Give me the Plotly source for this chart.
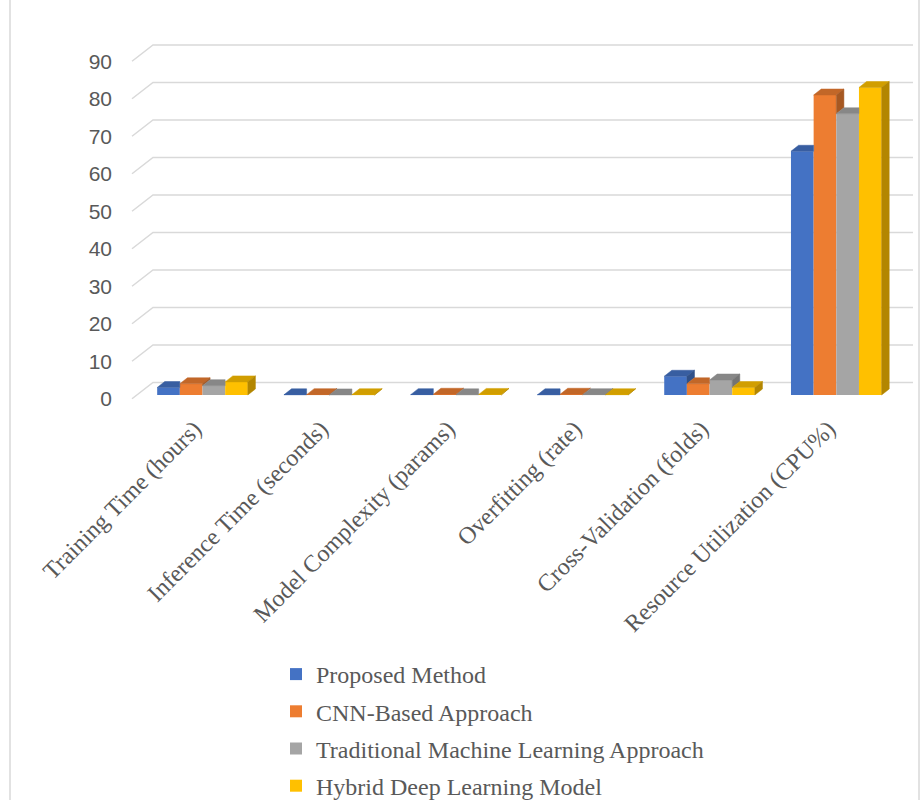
import plotly.graph_objects as go

# ---------------- data ----------------
categories = [
    "Training Time (hours)",
    "Inference Time (seconds)",
    "Model Complexity (params)",
    "Overfitting (rate)",
    "Cross-Validation (folds)",
    "Resource Utilization (CPU%)",
]
series_names = [
    "Proposed Method",
    "CNN-Based Approach",
    "Traditional Machine Learning Approach",
    "Hybrid Deep Learning Model",
]
proposed = [2, 0.05, 0.1, 0.05, 5, 65]
cnn = [3, 0.1, 0.2, 0.2, 3, 80]
traditional = [2.5, 0.03, 0.05, 0.1, 4, 75]
hybrid = [3.5, 0.08, 0.15, 0.08, 2, 82]
y_ticks = [0, 10, 20, 30, 40, 50, 60, 70, 80, 90]

series_values = [proposed, cnn, traditional, hybrid]

front_colors = ["#4472C4", "#ED7D31", "#A5A5A5", "#FFC000"]
top_colors = ["#385EA1", "#C26728", "#878787", "#D19E00"]
side_colors = ["#305089", "#A65822", "#747474", "#B38600"]

# ---------------- geometry ----------------
W, H = 922, 800
ML, MR, MT, MB = 125, 4, 40, 400
PW, PH = W - ML - MR, H - MT - MB
PX_X = 126.76            # pixels per category
PX_Y = 3.75              # pixels per value unit
X0 = -(202.5 - ML) / PX_X
X1 = X0 + PW / PX_X
Y0 = -((H - MB) - 395) / PX_Y
Y1 = Y0 + PH / PX_Y


def px2x(p):
    return X0 + (p - ML) / PX_X


GROUP_W = 0.715
BAR_W = GROUP_W / 4
DX = 7.6 / PX_X
DY = 6.0 / PX_Y
FRONT_OFF = -1.0
BACK_OFF = 12.5 / PX_Y

fig = go.Figure()

xs = list(range(len(categories)))

# front faces (real bars)
for i, (name, vals) in enumerate(zip(series_names, series_values)):
    fig.add_trace(go.Bar(
        x=xs, y=vals, name=name,
        width=BAR_W, offset=-GROUP_W / 2 + i * BAR_W,
        marker=dict(color=front_colors[i], line=dict(width=0)),
        legendgroup=f"g{i}",
    ))

# 3D top and side faces
for i, vals in enumerate(series_values):
    tx, ty, sx, sy = [], [], [], []
    for k, v in enumerate(vals):
        xl = k - GROUP_W / 2 + i * BAR_W
        xr = xl + BAR_W
        vn = series_values[i + 1][k] if i < len(series_values) - 1 else None
        if vn is not None and vn > v:
            poly = [(xl, v), (xr, v), (xr, v + DY), (xl + DX, v + DY)]
        else:
            poly = [(xl, v), (xr, v), (xr + DX, v + DY), (xl + DX, v + DY)]
        for px_, py_ in poly + [poly[0]]:
            tx.append(px_)
            ty.append(py_)
        tx.append(None)
        ty.append(None)
        side = None
        if vn is None:
            side = [(xr, 0), (xr + DX, DY), (xr + DX, v + DY), (xr, v)]
        elif v > vn:
            side = [(xr, vn), (xr + DX, vn + DY), (xr + DX, v + DY), (xr, v)]
        if side:
            for px_, py_ in side + [side[0]]:
                sx.append(px_)
                sy.append(py_)
            sx.append(None)
            sy.append(None)
    fig.add_trace(go.Scatter(
        x=tx, y=ty, mode="lines", fill="toself", fillcolor=top_colors[i],
        line=dict(color=top_colors[i], width=0.5), showlegend=False,
        hoverinfo="skip", legendgroup=f"g{i}",
    ))
    if sx:
        fig.add_trace(go.Scatter(
            x=sx, y=sy, mode="lines", fill="toself", fillcolor=side_colors[i],
            line=dict(color=side_colors[i], width=0.5), showlegend=False,
            hoverinfo="skip", legendgroup=f"g{i}",
        ))

# gridlines (back wall + side wall) as shapes below traces
shapes = []
for t in y_ticks:
    xf, yf = px2x(132), t + FRONT_OFF
    xb, yb = px2x(153), t + BACK_OFF
    xe = px2x(913)
    shapes.append(dict(
        type="path", xref="x", yref="y", layer="below",
        path=f"M {xf},{yf} L {xb},{yb} L {xe},{yb}",
        line=dict(color="#D9D9D9", width=1.5),
    ))
# chart border
for p in (10, 919):
    xp = (p - ML) / PW
    shapes.append(dict(
        type="line", xref="paper", yref="paper", x0=xp, x1=xp, y0=-1.3, y1=1.3,
        line=dict(color="#D9D9D9", width=1.5),
    ))

fig.update_layout(
    width=W, height=H,
    margin=dict(l=ML, r=MR, t=MT, b=MB, pad=0, autoexpand=False),
    paper_bgcolor="white", plot_bgcolor="white",
    barmode="overlay",
    showlegend=True,
    shapes=shapes,
    xaxis=dict(
        range=[X0, X1], tickmode="array", tickvals=xs, ticktext=categories,
        tickangle=-45, showgrid=False, zeroline=False, showline=False, ticks="",
        ticklabelstandoff=9, ticklabelshift=-8, automargin=False,
        tickfont=dict(family="Liberation Serif", size=24, color="#595959"),
        fixedrange=True,
    ),
    yaxis=dict(
        range=[Y0, Y1], tickmode="array",
        tickvals=[t + FRONT_OFF for t in y_ticks], ticktext=[str(t) for t in y_ticks],
        showgrid=False, zeroline=False, showline=False, ticks="",
        ticklabelstandoff=12, automargin=False,
        tickfont=dict(family="Liberation Sans", size=21, color="#595959"),
        fixedrange=True,
    ),
    legend=dict(
        x=(276 - ML) / PW, y=(H - MB - 652) / PH, xanchor="left", yanchor="top",
        font=dict(family="Liberation Serif", size=24, color="#595959"),
        bgcolor="rgba(0,0,0,0)", tracegroupgap=3,
    ),
)

fig.write_html("out.html")
